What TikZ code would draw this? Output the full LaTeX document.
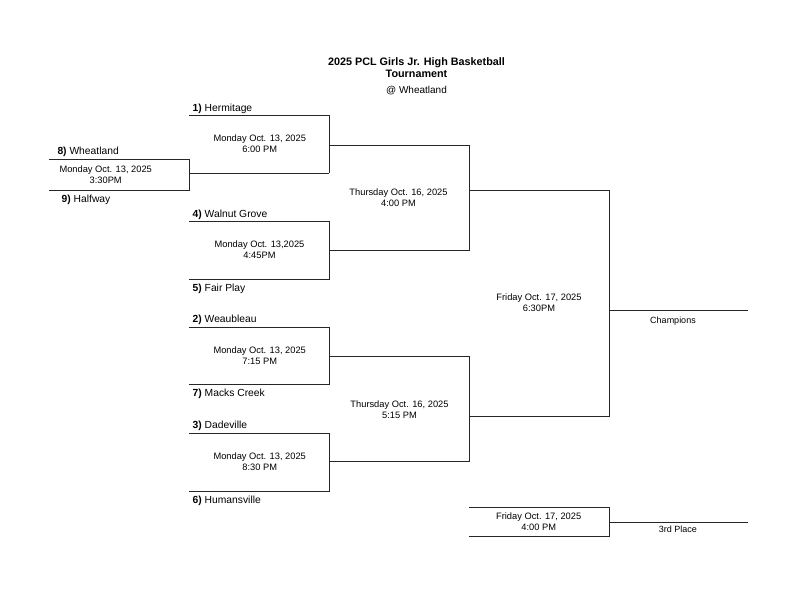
\documentclass[tikz,border=0pt]{standalone}
\usepackage{fontspec}
\setmainfont{Liberation Sans}
\begin{document}
\begin{tikzpicture}[x=1pt,y=-1pt,
  bline/.style={draw=black!85, line width=0.8pt},
  team/.style={anchor=base west, inner sep=0pt, font=\fontsize{10.3}{12}\selectfont},
  game/.style={align=center, inner sep=0pt, font=\fontsize{9.3}{10.7}\selectfont},
  place/.style={anchor=base, inner sep=0pt, font=\fontsize{9}{11}\selectfont},
  title/.style={anchor=base, inner sep=0pt, font=\fontsize{10.8}{12}\selectfont\bfseries}]
\useasboundingbox (0,0) rectangle (796,605);
\fill[white] (0,0) rectangle (796,605);

% title
\node[title] (ttl1) at (416.5,65) {2025 PCL Girls Jr. High Basketball};
\node[title] (ttl2) at (416.5,77.7) {Tournament};
\node[anchor=base, inner sep=0pt, font=\fontsize{10}{12}\selectfont] (ttl3) at (416.5,93.5) {@ Wheatland};

% coordinates: play-in game
\coordinate (a1) at (49,159);   \coordinate (a2) at (189,159);
\coordinate (a3) at (189,190);  \coordinate (a4) at (49,190);
\coordinate (a5) at (189,173);
% first round
\coordinate (b1) at (189,115.7); \coordinate (b2) at (329,115.7);
\coordinate (b3) at (329,173);   \coordinate (b4) at (329,145);
\coordinate (c1) at (189,221.7); \coordinate (c2) at (329,221.7);
\coordinate (c3) at (329,279);   \coordinate (c4) at (189,279);
\coordinate (c5) at (329,250);
\coordinate (d1) at (189,327);   \coordinate (d2) at (329,327);
\coordinate (d3) at (329,384);   \coordinate (d4) at (189,384);
\coordinate (d5) at (329,356.7);
\coordinate (e1) at (189,433);   \coordinate (e2) at (329,433);
\coordinate (e3) at (329,491);   \coordinate (e4) at (189,491);
\coordinate (e5) at (329,461.7);
% semifinals
\coordinate (s1) at (469,145);   \coordinate (s2) at (469,250);
\coordinate (s3) at (469,190);
\coordinate (s4) at (469,356.7); \coordinate (s5) at (469,461.7);
\coordinate (s6) at (469,416.7);
% final
\coordinate (f1) at (609,190);   \coordinate (f2) at (609,416.7);
\coordinate (f3) at (609,310);   \coordinate (f4) at (748,310);
% third place
\coordinate (p1) at (469,507);   \coordinate (p2) at (609,507);
\coordinate (p3) at (609,536);   \coordinate (p4) at (469,536);
\coordinate (p5) at (609,522);   \coordinate (p6) at (748,522);

% bracket lines
\draw[bline] (a1) -- (a2) -- (a3) -- (a4);
\draw[bline] (a5) -- (b3);
\draw[bline] (b1) -- (b2) -- (b3);
\draw[bline] (c1) -- (c2) -- (c3) -- (c4);
\draw[bline] (d1) -- (d2) -- (d3) -- (d4);
\draw[bline] (e1) -- (e2) -- (e3) -- (e4);
\draw[bline] (b4) -- (s1) -- (s2) -- (c5);
\draw[bline] (d5) -- (s4) -- (s5) -- (e5);
\draw[bline] (s3) -- (f1) -- (f2) -- (s6);
\draw[bline] (f3) -- (f4);
\draw[bline] (p1) -- (p2) -- (p3) -- (p4);
\draw[bline] (p5) -- (p6);

% teams
\node[team] (t1) at (192.5,111) {\textbf{1)} Hermitage};
\node[team] (t8) at (57.3,154.3) {\textbf{8)} Wheatland};
\node[team] (t9) at (61.5,202) {\textbf{9)} Halfway};
\node[team] (t4) at (192.5,217.3) {\textbf{4)} Walnut Grove};
\node[team] (t5) at (192.5,291) {\textbf{5)} Fair Play};
\node[team] (t2) at (192.5,322.5) {\textbf{2)} Weaubleau};
\node[team] (t7) at (192.5,396.5) {\textbf{7)} Macks Creek};
\node[team] (t3) at (192.5,428.5) {\textbf{3)} Dadeville};
\node[team] (t6) at (192.5,503) {\textbf{6)} Humansville};

% games
\node[game] (g0) at (105.7,175) {Monday Oct. 13, 2025\\3:30PM};
\node[game] (g1) at (259.8,144) {Monday Oct. 13, 2025\\6:00 PM};
\node[game] (g2) at (259.5,249.5) {Monday Oct. 13,2025\\4:45PM};
\node[game] (g3) at (259.7,355.5) {Monday Oct. 13, 2025\\7:15 PM};
\node[game] (g4) at (259.7,461.5) {Monday Oct. 13, 2025\\8:30 PM};
\node[game] (g5) at (398.5,197.5) {Thursday Oct. 16, 2025\\4:00 PM};
\node[game] (g6) at (399.5,409.5) {Thursday Oct. 16, 2025\\5:15 PM};
\node[game] (g7) at (539,303) {Friday Oct. 17, 2025\\6:30PM};
\node[game] (g8) at (538.7,521.5) {Friday Oct. 17, 2025\\4:00 PM};

% places
\node[place] (champ) at (673,323) {Champions};
\node[place] (third) at (678,532) {3rd Place};
\end{tikzpicture}
\end{document}
